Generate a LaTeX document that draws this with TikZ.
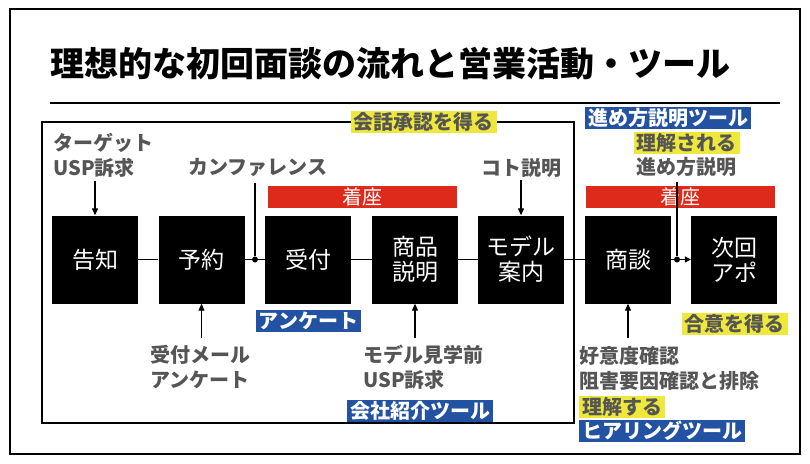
\documentclass[tikz,border=0pt]{standalone}
\usepackage{fontspec}
\setmainfont{Noto Sans CJK JP}
\usetikzlibrary{arrows.meta}
\definecolor{myred}{HTML}{DD2A1B}
\definecolor{myblue}{HTML}{2352A3}
\definecolor{myyellow}{HTML}{EEE83C}
\definecolor{mygray}{HTML}{555555}
\begin{document}
\begin{tikzpicture}[x=1pt,y=-1pt,
  stepbox/.style={fill=black, minimum width=86pt, minimum height=88pt, inner sep=0pt,
    text=white, align=center, font=\fontsize{23}{25}\selectfont},
  lbl/.style={text=mygray, inner sep=0pt, font=\bfseries\fontsize{20}{25}\selectfont},
  ylbl/.style={fill=myyellow, text=mygray, inner xsep=3pt, inner ysep=0pt, minimum height=22pt,
    font=\bfseries\fontsize{20}{24}\selectfont},
  blbl/.style={fill=myblue, text=white, inner xsep=3pt, inner ysep=0pt, minimum height=22pt,
    font=\bfseries\fontsize{20}{24}\selectfont},
  redbar/.style={fill=myred, text=white, minimum width=189pt, minimum height=22pt, inner sep=0pt,
    font=\fontsize{20}{24}\selectfont},
  conn/.style={line width=1.3pt},
  arr/.style={line width=1.3pt, -{Triangle[length=7pt,width=6pt]}},
  dot/.style={circle, fill=black, minimum size=6pt, inner sep=0pt}]
\useasboundingbox (0,0) rectangle (810,463);
% frames
\draw[line width=1.8pt] (10,9) rectangle (800,454);
\node[anchor=west, inner sep=0pt, font=\bfseries\fontsize{34}{38}\selectfont] (title) at (50,64) {理想的な初回面談の流れと営業活動・ツール};
\draw[line width=1.6pt] (50,103) coordinate (rl) -- (780,103) coordinate (rr);
\draw[line width=1.3pt] (42,122) coordinate (ib1) rectangle (574,423) coordinate (ib2);
% step boxes
\node[stepbox] (kokuchi) at (95,259.5) {告知};
\node[stepbox] (yoyaku) at (201.5,259.5) {予約};
\node[stepbox] (uketsuke) at (308,259.5) {受付};
\node[stepbox] (shohin) at (415,259.5) {商品\\説明};
\node[stepbox] (model) at (521,259.5) {モデル\\案内};
\node[stepbox] (shodan) at (628,259.5) {商談};
\node[stepbox] (jikai) at (734,259.5) {次回\\アポ};
% red bars
\node[redbar] (bar1) at (362.5,196.5) {着座};
\node[redbar] (bar2) at (680.5,197) {着座};
% dots
\node[dot] (d1) at (255,259.5) {};
\node[dot] (d2) at (677,259.5) {};
% top labels
\node[lbl, anchor=west, align=left] (tgt) at (53,155) {ターゲット\\USP訴求};
\node[lbl] (conf) at (258,167) {カンファレンス};
\node[lbl] (koto) at (521,168) {コト説明};
\node[lbl] (susume) at (686.5,167) {進め方説明};
\node[ylbl] (kaiwa) at (423.5,122) {会話承認を得る};
\node[blbl] (susumetool) at (668,117.5) {進め方説明ツール};
\node[ylbl] (rikaisareru) at (686.5,142.5) {理解される};
% bottom labels
\node[blbl] (anq) at (308.5,321) {アンケート};
\node[lbl, anchor=west, align=left] (mail) at (150,367) {受付メール\\アンケート};
\node[lbl, anchor=west, align=left] (kengaku) at (363,367) {モデル見学前\\USP訴求};
\node[blbl] (kaisha) at (420,411) {会社紹介ツール};
\node[ylbl] (goi) at (734.5,323.5) {合意を得る};
\node[lbl, anchor=west, align=left] (koui) at (579,368) {好意度確認\\阻害要因確認と排除};
\node[ylbl, anchor=west] (rikaisuru) at (579,406.5) {理解する};
\node[blbl, anchor=west] (hearing) at (579,431) {ヒアリングツール};
% connectors
\draw[conn] (kokuchi) -- (yoyaku);
\draw[conn] (yoyaku) -- (d1) -- (uketsuke);
\draw[conn] (uketsuke) -- (shohin);
\draw[conn] (shohin) -- (model);
\draw[conn] (model) -- (shodan);
\draw[conn] (shodan) -- (d2);
\draw[line width=1.3pt, -{Triangle[length=6pt,width=6pt]}] (d2) -- (jikai);
\draw[conn] (d1 |- 0,183) -- (d1);
\draw[conn] (d2 |- 0,182) -- (d2);
\draw[arr] (kokuchi.north |- 0,181) -- (kokuchi.north);
\draw[arr] (model.north |- 0,180) -- (model.north);
\draw[arr] (yoyaku.south |- 0,338) -- (yoyaku.south);
\draw[arr] (shohin.south |- 0,338) -- (shohin.south);
\draw[arr] (shodan.south |- 0,338) -- (shodan.south);
\end{tikzpicture}
\end{document}
